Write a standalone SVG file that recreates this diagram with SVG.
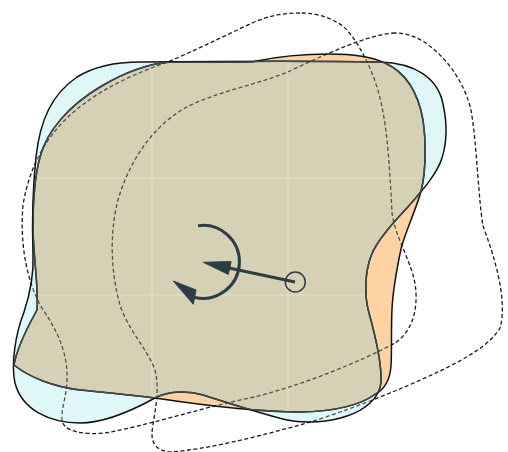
<svg xmlns="http://www.w3.org/2000/svg" width="508" height="452" viewBox="0 0 508 452">
<style>
.dash{fill:none;stroke:#1a1a1a;stroke-width:1.3;stroke-dasharray:4 2.5}
.dashIn{fill:none;stroke:#4d524f;stroke-width:1.3;stroke-dasharray:4 2.5}
.edge{fill:none;stroke:#111;stroke-width:1.5;stroke-linejoin:round}
.edgeIn{fill:none;stroke:#3e4a4e;stroke-width:1.5;stroke-linejoin:round}
.grid{stroke:#e6e1c8;stroke-width:1}
.arw{fill:none;stroke:#2c3e45;stroke-width:3}
.head{fill:#2c3e45;stroke:#2c3e45;stroke-width:1;stroke-linejoin:round}
</style>
<defs>
<path id="cyanP" d="M140,62 C240,61 330,61 380,62 C415,63 438,78 443,104 C447,122 447,142 442,158 C437,174 422,191 407,208 C395,221 377,240 371,256 C365,272 364,295 369,313 C374,331 382,360 381,382 C380,398 365,410 347,416 C330,422 305,424 287,420 C262,414 225,402 203,395 C190,391 170,390 155,398 C135,409 105,423 80,423 C50,423 22,410 15,383 C11,365 15,335 24,312 C29,297 34,278 33,255 C32,225 33,185 36,157 C40,120 52,94 77,77 C95,66 115,62 140,62 Z"/>
<path id="orangeP" d="M170,62 C200,62 238,62.5 254,61.5 C275,57 300,54 330,54 C355,54 372,57 385,63 C405,72 418,92 423,120 C426,140 426,168 422,187 C419,203 405,232 401,249 C397,268 393,290 392,309 C391,330 392,350 391,366 C390,380 384,390 374,395 C362,404 335,412 300,412 C255,412 195,404 155,398 C125,394 100,392 80,390 C55,387 30,378 14,365 C17,347 27,328 37,310 C39,290 33,255 33,226 C33,200 35,175 40,157 C47,130 70,105 100,87 C120,75 145,64 170,62 Z"/>
<path id="dash1P" d="M300,13 C280,13 265,17 250,24 C220,38 190,53 165,63 C125,77 90,95 65,120 C40,145 28,175 23,205 C20,240 25,275 40,305 C57,330 68,352 67,380 C67,395 61,408 62,420 C63,432 85,435 105,433 C150,425 200,408 254,397 C300,386 360,362 395,343 C410,333 417,315 416,293 C415,265 395,240 392,212 C390,175 388,135 382,107 C377,80 362,45 344,27 C332,18 318,13 300,13 Z"/>
<path id="dash2P" d="M395,33 C370,34 330,52 290,71 C260,84 215,92 185,108 C150,128 128,165 118,200 C110,230 110,270 120,305 C128,330 148,350 155,370 C160,390 155,410 153,425 C150,440 153,450 170,452 C210,449 255,437 300,425 C345,412 400,390 440,371 C465,359 490,345 500,328 C508,300 494,255 483,226 C478,195 477,145 471,110 C465,85 450,62 431,47 C420,38 408,33 395,33 Z"/>
<clipPath id="clipCyan"><use href="#cyanP"/></clipPath>
<clipPath id="clipOrange"><use href="#orangeP"/></clipPath>
<clipPath id="clipUnion"><use href="#cyanP"/><use href="#orangeP"/></clipPath>
</defs>
<rect width="508" height="452" fill="#ffffff"/>
<g id="dashed-outlines">
<use href="#dash1P" class="dash"/>
<use href="#dash2P" class="dash"/>
</g>
<g id="shape-cyan">
<use href="#cyanP" fill="#e0f7f8"/>
</g>
<g id="shape-orange">
<use href="#orangeP" fill="#fdd3a4"/>
</g>
<g id="overlap" clip-path="url(#clipCyan)">
<use href="#orangeP" fill="#d6d0b4"/>
<g clip-path="url(#clipOrange)">
<line class="grid" x1="152" y1="0" x2="152" y2="452"/>
<line class="grid" x1="288" y1="0" x2="288" y2="452"/>
<line class="grid" x1="0" y1="178" x2="508" y2="178"/>
<line class="grid" x1="0" y1="295" x2="508" y2="295"/>
</g>
</g>
<g id="dashed-inside" clip-path="url(#clipUnion)">
<use href="#dash1P" class="dashIn"/>
<use href="#dash2P" class="dashIn"/>
</g>
<g id="outlines">
<use href="#cyanP" class="edge"/>
<use href="#orangeP" class="edge"/>
<g clip-path="url(#clipOrange)"><use href="#cyanP" class="edgeIn"/></g>
<g clip-path="url(#clipCyan)"><use href="#orangeP" class="edgeIn"/></g>
</g>
<g id="connectors">
<g id="rotation-arrow">
<path class="arw" d="M198,225.7 A36.5,36.5 0 1 1 195,297.5"/>
<polygon class="head" points="173.3,281 196,290 193.3,304.3"/>
</g>
<g id="translation-arrow">
<line class="arw" x1="295" y1="282" x2="229" y2="268"/>
<polygon class="head" points="203.3,262.3 231.1,261.6 228.3,274.4"/>
</g>
</g>
<g id="pivot">
<circle cx="295.3" cy="282" r="10" fill="none" stroke="#2c3e45" stroke-width="1.5"/>
</g>
</svg>
